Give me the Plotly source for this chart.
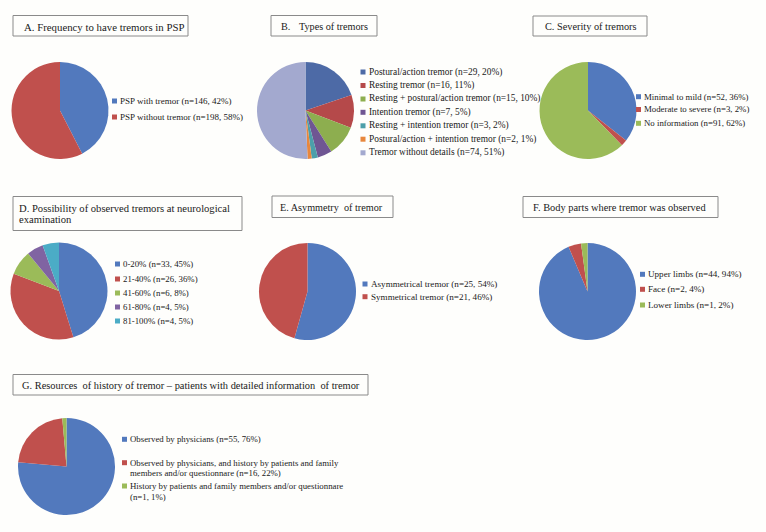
import plotly.graph_objects as go

W, H = 766, 532

# ---------------- data ----------------
a_labels = ["PSP with tremor", "PSP without tremor"]
a_values = [146, 198]
a_pct = [42, 58]

b_labels = ["Postural/action tremor", "Resting tremor", "Resting + postural/action tremor",
            "Intention tremor", "Resting + intention tremor",
            "Postural/action + intention tremor", "Tremor without details"]
b_values = [29, 16, 15, 7, 3, 2, 74]
b_pct = [20, 11, 10, 5, 2, 1, 51]

c_labels = ["Minimal to mild", "Moderate to severe", "No information"]
c_values = [52, 3, 91]
c_pct = [36, 2, 62]

d_labels = ["0-20%", "21-40%", "41-60%", "61-80%", "81-100%"]
d_values = [33, 26, 6, 4, 4]
d_pct = [45, 36, 8, 5, 5]

e_labels = ["Asymmetrical tremor", "Symmetrical tremor"]
e_values = [25, 21]
e_pct = [54, 46]

f_labels = ["Upper limbs", "Face", "Lower limbs"]
f_values = [44, 2, 1]
f_pct = [94, 4, 2]

g_labels = ["Observed by physicians",
            "Observed by physicians, and history by patients and family\nmembers and/or questionnare",
            "History by patients and family members and/or questionnare\n"]
g_values = [55, 16, 1]
g_pct = [76, 22, 1]

titles = {
    "A": "A. Frequency to have tremors in PSP",
    "C": "C. Severity of tremors",
    "D": "D. Possibility of observed tremors at neurological\nexamination",
    "E": "E. Asymmetry  of tremor",
    "F": "F. Body parts where tremor was observed",
    "G": "G. Resources  of history of tremor \u2013 patients with detailed information  of tremor",
}

# ---------------- styles ----------------
STD = ["#5279BD", "#C0504D", "#9BBB59", "#8064A2", "#4BACC6"]
BCOL = ["#4D6AA6", "#B5494A", "#8DAE4F", "#6F5693", "#4C9FAA", "#E8873D", "#A3A9CF"]
FONT = "Liberation Serif"
TXT = "#1a1a1a"
R = 48.5

fig = go.Figure()
shapes = []
annots = []


def px2paper(x, y):
    return x / W, 1 - y / H


def add_pie(labels, values, colors, cx, cy):
    x0, y1 = px2paper(cx - R, cy - R)
    x1, y0 = px2paper(cx + R, cy + R)
    fig.add_trace(go.Pie(
        labels=[l.replace("\n", " ") for l in labels], values=values,
        marker=dict(colors=colors, line=dict(width=0)),
        sort=False, direction="clockwise", rotation=0,
        textinfo="none", showlegend=False,
        domain=dict(x=[x0, x1], y=[y0, y1]),
    ))


def add_text(x, y, s, size=10):
    xp, yp = px2paper(x, y)
    annots.append(dict(x=xp, y=yp, xref="paper", yref="paper", text=s,
                       showarrow=False, xanchor="left", yanchor="middle",
                       align="left", borderpad=0,
                       font=dict(family=FONT, size=size, color=TXT)))


def add_legend(labels, values, pct, colors, mx, tx, ys, size, line_gap=10.7):
    for lab, v, p, c, y in zip(labels, values, pct, colors, ys):
        lines = lab.split("\n")
        lines[-1] = (lines[-1] + " " if lines[-1] else "") + f"(n={v}, {p}%)"
        x0, y0 = px2paper(mx - 2.5, y - 2.5)
        x1, y1 = px2paper(mx + 2.5, y + 2.5)
        shapes.append(dict(type="rect", xref="paper", yref="paper",
                           x0=x0, x1=x1, y0=y1, y1=y0,
                           fillcolor=c, line=dict(width=0)))
        for i, ln in enumerate(lines):
            add_text(tx, y + i * line_gap, ln, size)


def add_title_box(x0, y0, x1, y1):
    a, b = px2paper(x0, y0)
    c, d = px2paper(x1, y1)
    shapes.append(dict(type="rect", xref="paper", yref="paper",
                       x0=a, x1=c, y0=d, y1=b,
                       line=dict(color="#8a8a8a", width=1), fillcolor="rgba(0,0,0,0)"))


# ---------------- panels ----------------
# A
add_pie(a_labels, a_values, STD, 60, 110.5)
add_title_box(13, 15.5, 188, 36)
add_text(22.5, 26.5, titles["A"], 10.8)
add_legend(a_labels, a_values, a_pct, STD, 114.5, 119, [101, 117], 9)

# B
add_pie(b_labels, b_values, BCOL, 305.5, 110.5)
add_title_box(271, 15.5, 377, 36)
add_text(280, 26.5, "B.", 10.2)
add_text(297.5, 26.5, "Types of tremors", 10.2)
add_legend(b_labels, b_values, b_pct, BCOL, 363, 367.5,
           [72, 85.5, 99, 112.3, 125.8, 139.2, 152.8], 9.4)

# C
add_pie(c_labels, c_values, [STD[0], STD[1], STD[2]], 588, 110.5)
add_title_box(533, 16, 647, 36)
add_text(543.5, 26.5, titles["C"], 10.3)
add_legend(c_labels, c_values, c_pct, STD, 638.5, 643, [96.7, 109.5, 123.3], 8.8)

# D
add_pie(d_labels, d_values, STD, 59, 291)
add_title_box(13, 196.5, 242, 230.5)
d_lines = titles["D"].split("\n")
add_text(18, 208.3, d_lines[0], 10.6)
add_text(18, 219.5, d_lines[1], 10.6)
add_legend(d_labels, d_values, d_pct, STD, 117.5, 122, [264, 279, 293, 307, 321], 8.8)

# E
add_pie(e_labels, e_values, STD, 307.5, 291.5)
add_title_box(272, 196, 393, 217.5)
add_text(279, 207.8, titles["E"], 10.2)
add_legend(e_labels, e_values, e_pct, STD, 365, 369.5, [284, 296.7], 9.1)

# F
add_pie(f_labels, f_values, STD, 587.5, 291.5)
add_title_box(523, 196.5, 718, 217.5)
add_text(531.5, 207.6, titles["F"], 10.4)
add_legend(f_labels, f_values, f_pct, STD, 642.5, 647, [274.3, 289.3, 305], 9.1)

# G
add_pie(g_labels, g_values, STD, 66.5, 466.5)
add_title_box(13, 374.5, 368, 395)
add_text(21, 385.5, titles["G"], 10.4)
add_legend(g_labels, g_values, g_pct, STD, 124.5, 128.5, [439.3, 462.7, 486], 8.8)

fig.update_layout(
    width=W, height=H,
    margin=dict(l=0, r=0, t=0, b=0),
    paper_bgcolor="#FEFEFC",
    plot_bgcolor="#FEFEFC",
    shapes=shapes,
    annotations=annots,
)

fig.write_html("out.html", config={"displayModeBar": False},
               post_script="document.body.style.margin='0';document.body.style.padding='0';")
